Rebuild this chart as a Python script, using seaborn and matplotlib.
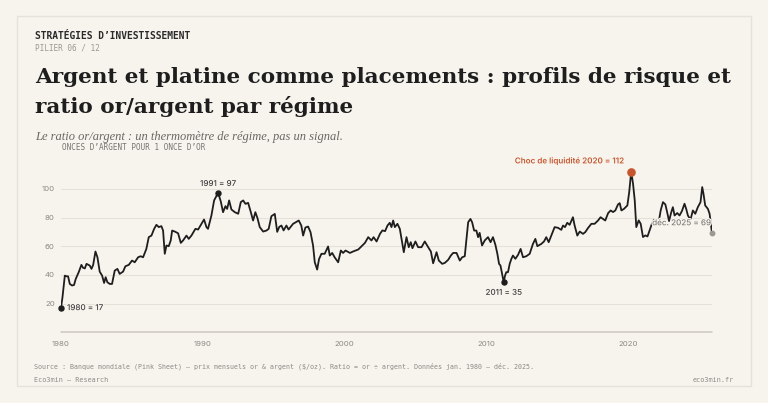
import numpy as np
import pandas as pd
import matplotlib
matplotlib.use("Agg")
import matplotlib.pyplot as plt
import matplotlib.patheffects as pe
from matplotlib.patches import Rectangle
import seaborn as sns

# ---------------- data ----------------
years = [
    1980.00, 1980.10, 1980.27, 1980.40, 1980.50, 1980.62, 1980.78, 1980.92,
    1981.04, 1981.25, 1981.44, 1981.55, 1981.68, 1981.80, 1982.03, 1982.15,
    1982.27, 1982.43, 1982.57, 1982.73, 1982.90, 1983.04, 1983.15, 1983.27,
    1983.44, 1983.60, 1983.79, 1983.98, 1984.14, 1984.38, 1984.54, 1984.78,
    1985.01, 1985.20, 1985.44, 1985.62, 1985.79, 1986.02, 1986.19, 1986.38,
    1986.57, 1986.73, 1986.90, 1987.08, 1987.20, 1987.32, 1987.44, 1987.60,
    1987.74, 1987.84, 1988.03, 1988.26, 1988.45, 1988.61, 1988.85, 1989.01,
    1989.20, 1989.48, 1989.67, 1989.91, 1990.09, 1990.26, 1990.37, 1990.61,
    1990.80, 1990.96, 1991.08, 1991.27, 1991.43, 1991.60, 1991.72, 1991.86,
    1992.02, 1992.26, 1992.50, 1992.68, 1992.85, 1993.01, 1993.20, 1993.39,
    1993.55, 1993.71, 1993.86, 1994.02, 1994.26, 1994.49, 1994.65, 1994.84,
    1995.08, 1995.25, 1995.40, 1995.55, 1995.70, 1995.90, 1996.05, 1996.37,
    1996.77, 1996.95, 1997.08, 1997.24, 1997.43, 1997.60, 1997.78, 1997.90,
    1998.07, 1998.20, 1998.37, 1998.60, 1998.84, 1998.96, 1999.13, 1999.30,
    1999.55, 1999.74, 1999.90, 2000.07, 2000.38, 2000.60, 2000.97, 2001.20,
    2001.44, 2001.67, 2001.90, 2002.05, 2002.26, 2002.50, 2002.67, 2002.86,
    2003.03, 2003.19, 2003.31, 2003.43, 2003.55, 2003.73, 2003.90, 2004.02,
    2004.18, 2004.37, 2004.53, 2004.67, 2004.79, 2005.00, 2005.19, 2005.43,
    2005.66, 2005.90, 2006.09, 2006.25, 2006.49, 2006.65, 2006.89, 2007.08,
    2007.31, 2007.50, 2007.66, 2007.90, 2008.13, 2008.30, 2008.48, 2008.60,
    2008.72, 2008.88, 2009.00, 2009.14, 2009.30, 2009.42, 2009.53, 2009.70,
    2009.89, 2010.12, 2010.30, 2010.47, 2010.64, 2010.78, 2010.90, 2011.00,
    2011.23, 2011.32, 2011.41, 2011.53, 2011.65, 2011.77, 2011.88, 2012.05,
    2012.24, 2012.42, 2012.59, 2012.82, 2013.06, 2013.29, 2013.46, 2013.60,
    2013.88, 2014.07, 2014.23, 2014.40, 2014.63, 2014.82, 2015.06, 2015.29,
    2015.41, 2015.55, 2015.71, 2015.88, 2016.11, 2016.23, 2016.42, 2016.59,
    2016.82, 2016.98, 2017.17, 2017.41, 2017.64, 2017.88, 2018.06, 2018.23,
    2018.39, 2018.59, 2018.77, 2018.94, 2019.10, 2019.29, 2019.41, 2019.53,
    2019.71, 2019.95, 2020.08, 2020.22, 2020.35, 2020.47, 2020.58, 2020.75,
    2020.89, 2021.05, 2021.22, 2021.37, 2021.52, 2021.68, 2021.83, 2021.99,
    2022.16, 2022.30, 2022.46, 2022.63, 2022.77, 2022.89, 2023.05, 2023.16,
    2023.28, 2023.47, 2023.63, 2023.80, 2023.98, 2024.10, 2024.22, 2024.40,
    2024.57, 2024.74, 2024.92, 2025.11, 2025.23, 2025.32, 2025.44, 2025.63,
    2025.75, 2025.82, 2025.92,
]
ratio = [
    17.2, 24.0, 39.5, 39.0, 39.0, 33.7, 32.6, 33.0,
    37.2, 41.9, 47.0, 45.0, 44.5, 47.7, 46.5, 44.2,
    47.0, 56.3, 52.3, 42.3, 39.5, 34.4, 38.4, 34.9,
    33.7, 33.7, 43.0, 44.2, 40.7, 42.3, 46.0, 47.0,
    50.0, 48.8, 52.3, 53.0, 52.3, 58.1, 66.3, 67.4,
    72.1, 74.9, 73.3, 74.0, 70.9, 54.7, 60.5, 60.0,
    64.0, 70.9, 70.2, 69.0, 62.3, 64.0, 67.4, 65.1,
    67.4, 72.1, 71.6, 75.6, 78.6, 73.3, 72.1, 81.4,
    91.9, 94.9, 97.4, 91.2, 83.7, 87.9, 86.0, 91.9,
    85.6, 83.7, 82.6, 90.7, 91.9, 89.5, 90.2, 83.7,
    77.9, 83.7, 79.5, 73.3, 70.2, 70.9, 72.1, 80.9,
    82.5, 70.0, 73.5, 74.4, 71.0, 74.4, 71.6, 75.6,
    77.9, 74.4, 67.4, 73.0, 73.7, 69.8, 60.5, 48.8,
    43.7, 51.0, 54.7, 54.7, 59.8, 53.5, 55.3, 52.3,
    48.8, 57.0, 55.3, 57.0, 55.3, 56.3, 57.7, 60.0,
    62.3, 66.3, 64.0, 66.3, 63.3, 68.6, 71.0, 70.5,
    74.4, 76.3, 73.3, 77.9, 73.3, 75.6, 72.1, 65.1,
    55.8, 66.3, 59.3, 62.8, 58.6, 63.3, 59.3, 59.3,
    63.3, 59.3, 56.3, 48.1, 55.8, 50.0, 47.7, 48.4,
    50.5, 53.5, 55.3, 55.3, 50.0, 52.3, 53.0, 65.1,
    76.7, 79.0, 76.7, 70.9, 70.9, 66.3, 69.3, 60.5,
    64.0, 66.3, 62.8, 66.3, 61.0, 54.7, 47.7, 46.5,
    34.8, 39.5, 41.9, 41.9, 47.7, 51.2, 53.5, 51.2,
    54.0, 58.1, 52.3, 53.0, 54.7, 61.6, 65.1, 60.0,
    61.6, 63.3, 66.3, 62.8, 68.6, 73.3, 72.8, 71.4,
    74.4, 73.3, 76.3, 74.9, 80.2, 74.4, 67.4, 70.2,
    68.6, 69.8, 72.6, 75.6, 75.6, 77.9, 80.2, 79.0,
    77.9, 83.0, 84.9, 83.8, 84.9, 89.1, 90.0, 84.9,
    86.0, 88.4, 97.7, 112.0, 103.5, 91.9, 73.3, 78.0,
    75.6, 66.4, 67.5, 66.8, 71.0, 75.6, 78.4, 78.0,
    76.8, 84.9, 90.7, 89.1, 83.1, 77.5, 83.8, 87.2,
    81.4, 83.1, 81.4, 84.5, 89.6, 86.0, 81.4, 78.4,
    84.9, 82.6, 87.2, 90.7, 101.2, 96.5, 88.4, 86.0,
    82.6, 76.8, 69.0,
]
x_ticks = [1980, 1990, 2000, 2010, 2020]
y_ticks = [20, 40, 60, 80, 100]

kicker = "STRATÉGIES D’INVESTISSEMENT"
pillar = "PILIER 06 / 12"
title_lines = ["Argent et platine comme placements : profils de risque et",
               "ratio or/argent par régime"]
subtitle = "Le ratio or/argent : un thermomètre de régime, pas un signal."
y_label = "ONCES D’ARGENT POUR 1 ONCE D’OR"
source = ("Source : Banque mondiale (Pink Sheet) — prix mensuels or & argent ($/oz). "
          "Ratio = or ÷ argent. Données jan. 1980 – déc. 2025.")
brand_left = "Eco3min — Research"
brand_right = "eco3min.fr"

# ---------------- style ----------------
BG = "#f7f4ee"
INK = "#1e1e1e"
GRID = "#e6e1d8"
AXIS = "#cdc8bf"
TICK = "#8c8a86"
ORANGE = "#c7562e"

sns.set_style("white")
plt.rcParams['font.family'] = ['Inter', 'DejaVu Sans']

W, H = 768, 403
fig = plt.figure(figsize=(W / 100, H / 100), dpi=100, facecolor=BG)

def fx(px):
    return px / W

def fy(py):
    return 1 - py / H

fig.patches.append(Rectangle((fx(17), fy(386)), fx(751) - fx(17), fy(16) - fy(386),
                             transform=fig.transFigure, facecolor="none",
                             edgecolor="#e7e2d9", lw=1.0, zorder=-10))

YTOP = 115
ax = fig.add_axes([fx(61), 1 - 332.3 / H, fx(712) - fx(61), YTOP * 1.435 / H])
ax.set_facecolor("none")

df = pd.DataFrame({"year": years, "ratio": ratio})
for yt in y_ticks:
    ax.axhline(yt, color=GRID, lw=0.8, zorder=0)
ax.axhline(0, color=AXIS, lw=1.1, zorder=1, clip_on=False)

sns.lineplot(data=df, x="year", y="ratio", ax=ax, color=INK, lw=1.3, zorder=3)

ax.set_xlim(years[0], years[-1])
ax.set_ylim(0, YTOP)
ax.set_xticks(x_ticks)
ax.set_yticks(y_ticks)
ax.tick_params(axis='both', length=0, labelsize=5.6, labelcolor=TICK)
ax.tick_params(axis='y', pad=4.5)
ax.tick_params(axis='x', pad=6.5)
ax.set_xlabel("")
ax.set_ylabel("")
for s in ax.spines.values():
    s.set_visible(False)

halo = [pe.withStroke(linewidth=1.8, foreground=BG)]

def mark(i, color, size, label, dx, dy, ha, lcolor, weight="medium"):
    ax.plot([years[i]], [ratio[i]], "o", color=color, ms=size, mec=color, zorder=5,
            clip_on=False)
    ax.annotate(label, (years[i], ratio[i]), xytext=(dx, dy), textcoords="offset points",
                ha=ha, va="center", fontsize=5.8, color=lcolor, fontweight=weight,
                zorder=6, path_effects=halo, annotation_clip=False)

arr = np.array(ratio)
i_start = 0
i_max = int(np.argmax(arr))
i_end = len(ratio) - 1
early = [k for k, y in enumerate(years) if y < 2000]
i_peak91 = early[int(np.argmax(arr[early]))]
late = [k for k, y in enumerate(years) if 2000 <= y < 2015]
i_min11 = late[int(np.argmin(arr[late]))]

mark(i_start, INK, 3.6, f"{int(round(years[i_start]))} = {ratio[i_start]:.0f}", 4.3, 0, "left", "#3c3c3c")
mark(i_peak91, INK, 3.6, f"{int(years[i_peak91])} = {ratio[i_peak91]:.0f}", 0, 6.5, "center", "#3c3c3c")
mark(i_min11, INK, 3.6, f"{int(years[i_min11])} = {ratio[i_min11]:.0f}", 0, -7.2, "center", "#3c3c3c")
mark(i_max, ORANGE, 5.2, f"Choc de liquidité {int(years[i_max])} = {ratio[i_max]:.0f}",
     -5.5, 7.7, "right", ORANGE, weight="semibold")
mark(i_end, "#9a9893", 3.2, f"déc. {int(years[i_end])} = {ratio[i_end]:.0f}",
     -0.5, 7.6, "right", "#7d7b77")

# ---------------- texts ----------------
MONO = ['DejaVu Sans Mono']
SERIF = ['DejaVu Serif']
fig.text(fx(35), fy(39), kicker, family=MONO, fontsize=6.9, fontweight="bold",
         color="#2a2a2a", va="baseline")
fig.text(fx(35), fy(50.5), pillar, family=MONO, fontsize=5.6, color="#9a9893",
         va="baseline")
fig.text(fx(35), fy(83), title_lines[0], family=SERIF, fontsize=15.45,
         fontweight="bold", color=INK, va="baseline")
fig.text(fx(35), fy(113), title_lines[1], family=SERIF, fontsize=15.45,
         fontweight="bold", color=INK, va="baseline")
fig.text(fx(35), fy(140), subtitle, family=['Liberation Serif'], fontsize=9.0,
         style="italic", color="#6a6864", va="baseline")
fig.text(fx(61.5), fy(149.5), y_label, family=MONO, fontsize=5.5, color="#77756f",
         va="baseline")
fig.text(fx(34.5), fy(369), source, family=MONO, fontsize=4.75, color="#8c8a86",
         va="baseline")
fig.text(fx(34.5), fy(382.5), brand_left, family=MONO, fontsize=4.9, color="#8c8a86",
         va="baseline")
fig.text(fx(733.5), fy(382.5), brand_right, family=MONO, fontsize=4.9, color="#8c8a86",
         va="baseline", ha="right")

fig.savefig("out.png", dpi=100, facecolor=BG)
